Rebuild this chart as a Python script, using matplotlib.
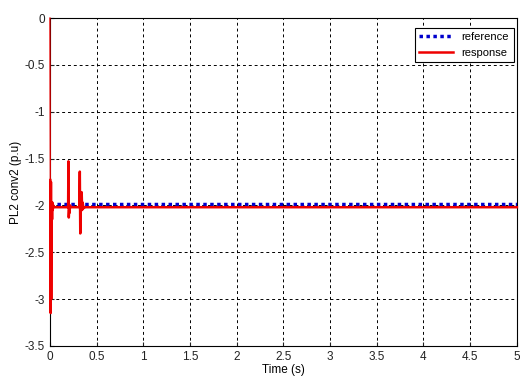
import matplotlib.pyplot as plt

plt.rcParams['font.family'] = ['Liberation Sans', 'DejaVu Sans']

# reference setpoint
t_ref = [0.0, 5.0]
p_ref = [-1.99, -1.99]

# converter response
t_resp = [0.0, 0.004, 0.008, 0.011, 0.014, 0.017, 0.020, 0.023, 0.026, 0.030, 0.035,
          0.045, 0.060, 0.190, 0.195, 0.198, 0.202, 0.206, 0.210, 0.215, 0.225,
          0.310, 0.315, 0.320, 0.325, 0.330, 0.335, 0.340, 0.345, 0.350, 0.360,
          0.380, 0.500, 5.0]
p_resp = [0.0, -1.73, -3.15, -1.75, -3.0, -2.05, -1.98, -2.15, -1.97, -2.05, -2.0,
          -2.02, -2.02, -2.02, -2.0, -1.53, -2.13, -2.05, -2.08, -2.0, -2.02,
          -2.02, -2.0, -1.64, -2.30, -1.95, -2.05, -1.86, -2.05, -1.97, -2.03,
          -2.02, -2.02, -2.02]

xticks = [0, 0.5, 1, 1.5, 2, 2.5, 3, 3.5, 4, 4.5, 5]
yticks = [0, -0.5, -1, -1.5, -2, -2.5, -3, -3.5]

fig = plt.figure(figsize=(5.2, 3.83), dpi=100)
ax = fig.add_axes([0.096, 0.097, 0.898, 0.856])

ax.plot(t_ref, p_ref, color='#0000cc', linestyle=(0, (1, 1)), linewidth=2.5, label='reference')
# the first jump is drawn thin in the original, the rest thick
ax.plot(t_resp[:2], p_resp[:2], color='#ee0000', linewidth=0.9, zorder=3, clip_on=False)
ax.plot(t_resp[1:], p_resp[1:], color='#ee0000', linewidth=1.8, label='response',
        zorder=3, clip_on=False)

ax.set_xlim(0, 5)
ax.set_ylim(-3.5, 0)
ax.set_xticks(xticks)
ax.set_xticklabels([f'{v:g}' for v in xticks])
ax.set_yticks(yticks)
ax.set_yticklabels([f'{v:g}' for v in yticks])
ax.tick_params(direction='in', length=3, labelsize=8.5, colors='#222222')
ax.grid(True, color='black', linestyle=(0, (3, 3)), linewidth=0.7)

ax.set_xlabel('Time (s)', fontsize=8.5, labelpad=1)
ax.set_ylabel('PL2 conv2 (p.u)', fontsize=8.5, labelpad=2)

leg = ax.legend(loc='upper right', fontsize=8, fancybox=False, framealpha=1,
                edgecolor='black', borderaxespad=0.3, handlelength=3,
                bbox_to_anchor=(1.0, 0.98))
leg.get_frame().set_linewidth(0.8)
leg.set_zorder(5)

for s in ax.spines.values():
    s.set_linewidth(0.8)

fig.savefig('out.png', dpi=100)
